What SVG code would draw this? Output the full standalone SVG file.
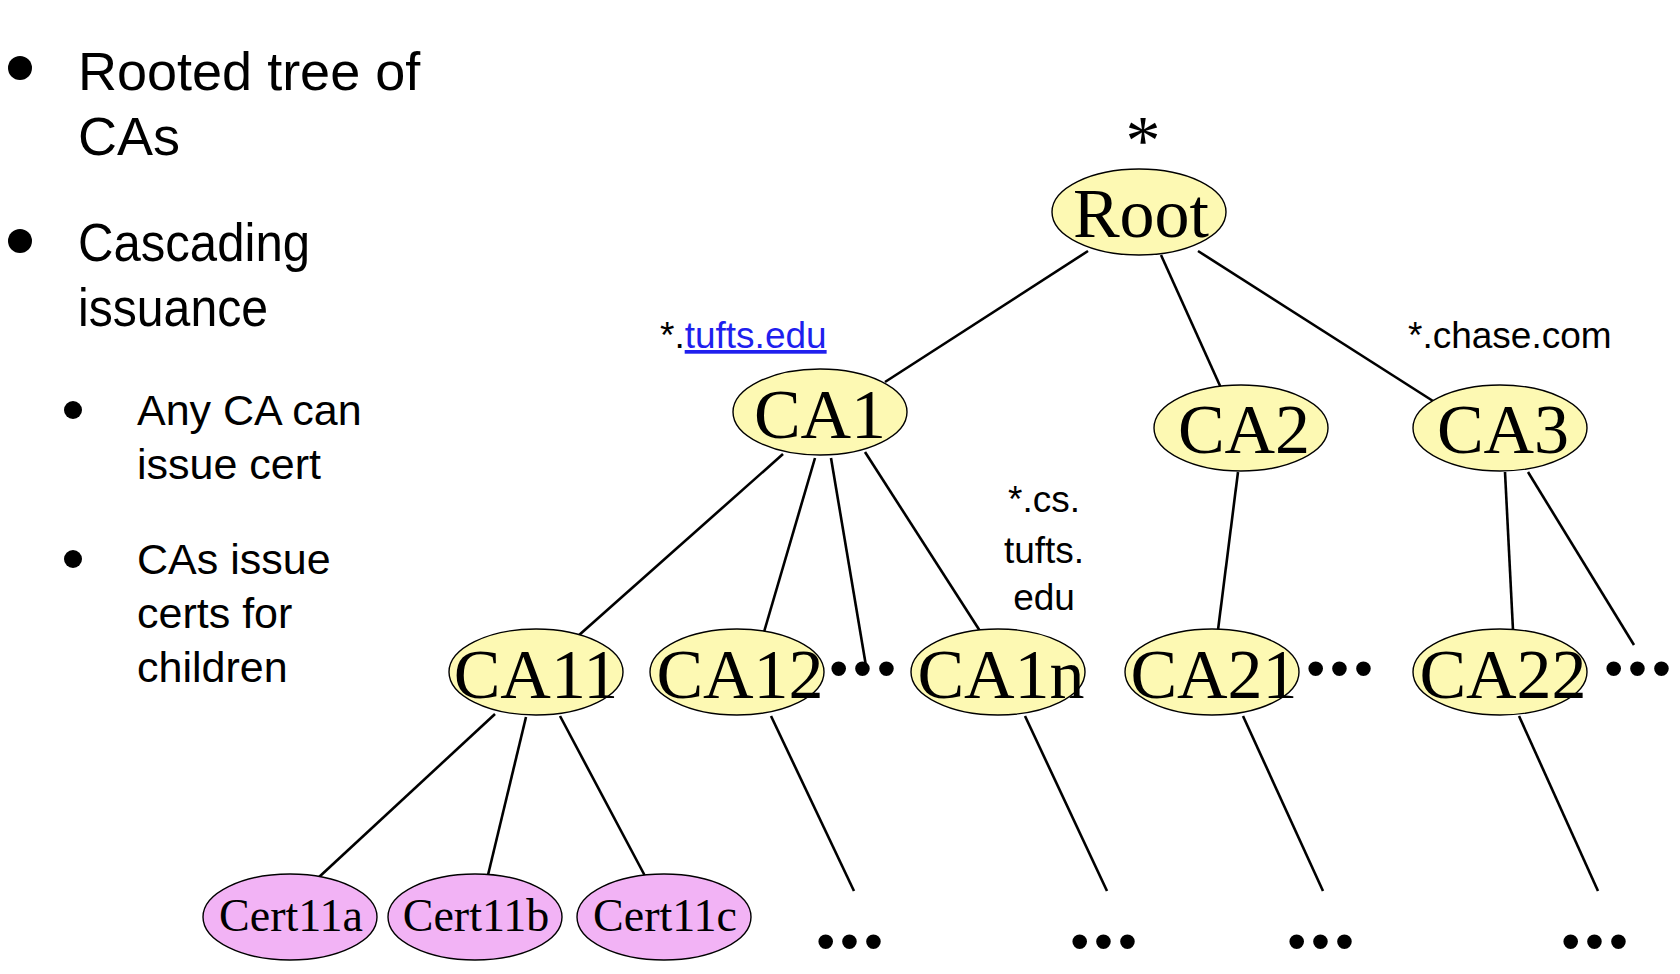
<svg xmlns="http://www.w3.org/2000/svg" width="1680" height="974" viewBox="0 0 1680 974">
<style>
.bg{fill:#ffffff}
.ca{fill:#fdf9b3;stroke:#000;stroke-width:1.4}
.cert{fill:#f2b3f5;stroke:#000;stroke-width:1.4}
.lbl{font-family:"Liberation Serif","Times New Roman",serif;font-size:70px;fill:#000;text-anchor:middle}
.clbl{font-family:"Liberation Serif","Times New Roman",serif;font-size:46px;fill:#000;text-anchor:middle}
.edge{stroke:#000;stroke-width:2.6;fill:none;stroke-linecap:butt}
.b1{font-family:"Liberation Sans",Arial,sans-serif;font-size:54px;fill:#000}
.b2{font-family:"Liberation Sans",Arial,sans-serif;font-size:43px;fill:#000}
.dom{font-family:"Liberation Sans",Arial,sans-serif;font-size:37px;fill:#000}
.link{fill:#1f1fee;text-decoration:underline}
.dots{font-family:"Liberation Sans",Arial,sans-serif;font-size:54px;letter-spacing:5px;fill:#000;text-anchor:middle}
</style>
<rect class="bg" x="0" y="0" width="1680" height="974"/>

<g id="bullets">
  <circle cx="20" cy="68" r="12"/>
  <text class="b1" x="78" y="90">Rooted tree of</text>
  <text class="b1" x="78" y="155">CAs</text>
  <circle cx="20" cy="241" r="12"/>
  <text class="b1" x="78" y="261" textLength="232" lengthAdjust="spacingAndGlyphs">Cascading</text>
  <text class="b1" x="78" y="326" textLength="190" lengthAdjust="spacingAndGlyphs">issuance</text>
  <circle cx="73" cy="410" r="9"/>
  <text class="b2" x="137" y="425">Any CA can</text>
  <text class="b2" x="137" y="479">issue cert</text>
  <circle cx="73" cy="559" r="9"/>
  <text class="b2" x="137" y="574">CAs issue</text>
  <text class="b2" x="137" y="628">certs for</text>
  <text class="b2" x="137" y="682">children</text>
</g>

<g id="connectors">
  <line class="edge" x1="1088" y1="251" x2="885" y2="382"/>
  <line class="edge" x1="1161" y1="255" x2="1221" y2="388"/>
  <line class="edge" x1="1198" y1="251" x2="1433" y2="401"/>
  <line class="edge" x1="783" y1="454" x2="578" y2="636"/>
  <line class="edge" x1="815" y1="458" x2="764" y2="632"/>
  <line class="edge" x1="831" y1="458" x2="866" y2="666"/>
  <line class="edge" x1="865" y1="452" x2="980" y2="631"/>
  <line class="edge" x1="1238" y1="472" x2="1218" y2="630"/>
  <line class="edge" x1="1505" y1="472" x2="1513" y2="630"/>
  <line class="edge" x1="1528" y1="472" x2="1634" y2="645"/>
  <line class="edge" x1="495" y1="714" x2="318" y2="878"/>
  <line class="edge" x1="526" y1="717" x2="488" y2="875"/>
  <line class="edge" x1="560" y1="716" x2="645" y2="876"/>
  <line class="edge" x1="771" y1="716" x2="854" y2="891"/>
  <line class="edge" x1="1025" y1="716" x2="1107" y2="891"/>
  <line class="edge" x1="1243" y1="716" x2="1323" y2="891"/>
  <line class="edge" x1="1519" y1="716" x2="1598" y2="891"/>
</g>

<g id="root">
  <text class="lbl" x="1143" y="164" font-size="50">*</text>
  <ellipse class="ca" cx="1139" cy="212" rx="87" ry="43"/>
  <text class="lbl" x="1141" y="237">Root</text>
</g>
<g id="ca1">
  <ellipse class="ca" cx="820" cy="412" rx="87" ry="43"/>
  <text class="lbl" x="820" y="438">CA1</text>
</g>
<g id="ca2">
  <ellipse class="ca" cx="1241" cy="428" rx="87" ry="43"/>
  <text class="lbl" x="1244" y="453">CA2</text>
</g>
<g id="ca3">
  <ellipse class="ca" cx="1500" cy="428" rx="87" ry="43"/>
  <text class="lbl" x="1503" y="453">CA3</text>
</g>
<g id="ca11">
  <ellipse class="ca" cx="536" cy="672" rx="87" ry="43"/>
  <text class="lbl" x="536" y="698">CA11</text>
</g>
<g id="ca12">
  <ellipse class="ca" cx="737" cy="672" rx="87" ry="43"/>
  <text class="lbl" x="740" y="698">CA12</text>
</g>
<g id="ca1n">
  <ellipse class="ca" cx="998" cy="672" rx="87" ry="43"/>
  <text class="lbl" x="1001" y="698">CA1n</text>
</g>
<g id="ca21">
  <ellipse class="ca" cx="1212" cy="672" rx="87" ry="43"/>
  <text class="lbl" x="1214" y="698">CA21</text>
</g>
<g id="ca22">
  <ellipse class="ca" cx="1500" cy="672" rx="87" ry="43"/>
  <text class="lbl" x="1503" y="698">CA22</text>
</g>
<g id="cert11a">
  <ellipse class="cert" cx="290" cy="917" rx="87" ry="43"/>
  <text class="clbl" x="291" y="931">Cert11a</text>
</g>
<g id="cert11b">
  <ellipse class="cert" cx="475" cy="917" rx="87" ry="43"/>
  <text class="clbl" x="476" y="931">Cert11b</text>
</g>
<g id="cert11c">
  <ellipse class="cert" cx="664" cy="917" rx="87" ry="43"/>
  <text class="clbl" x="665" y="931">Cert11c</text>
</g>

<g id="labels">
  <text class="dom" x="660" y="348">*.<tspan class="link">tufts.edu</tspan></text>
  <text class="dom" x="1408" y="348">*.chase.com</text>
  <text class="dom" x="1044" y="512" text-anchor="middle">*.cs.</text>
  <text class="dom" x="1044" y="563" text-anchor="middle">tufts.</text>
  <text class="dom" x="1044" y="610" text-anchor="middle">edu</text>
</g>

<g id="ellipses">
  <text class="dots" x="865" y="687">•••</text>
  <text class="dots" x="1342" y="687">•••</text>
  <text class="dots" x="1640" y="687">•••</text>
  <text class="dots" x="852" y="960">•••</text>
  <text class="dots" x="1106" y="960">•••</text>
  <text class="dots" x="1323" y="960">•••</text>
  <text class="dots" x="1597" y="960">•••</text>
</g>
</svg>
